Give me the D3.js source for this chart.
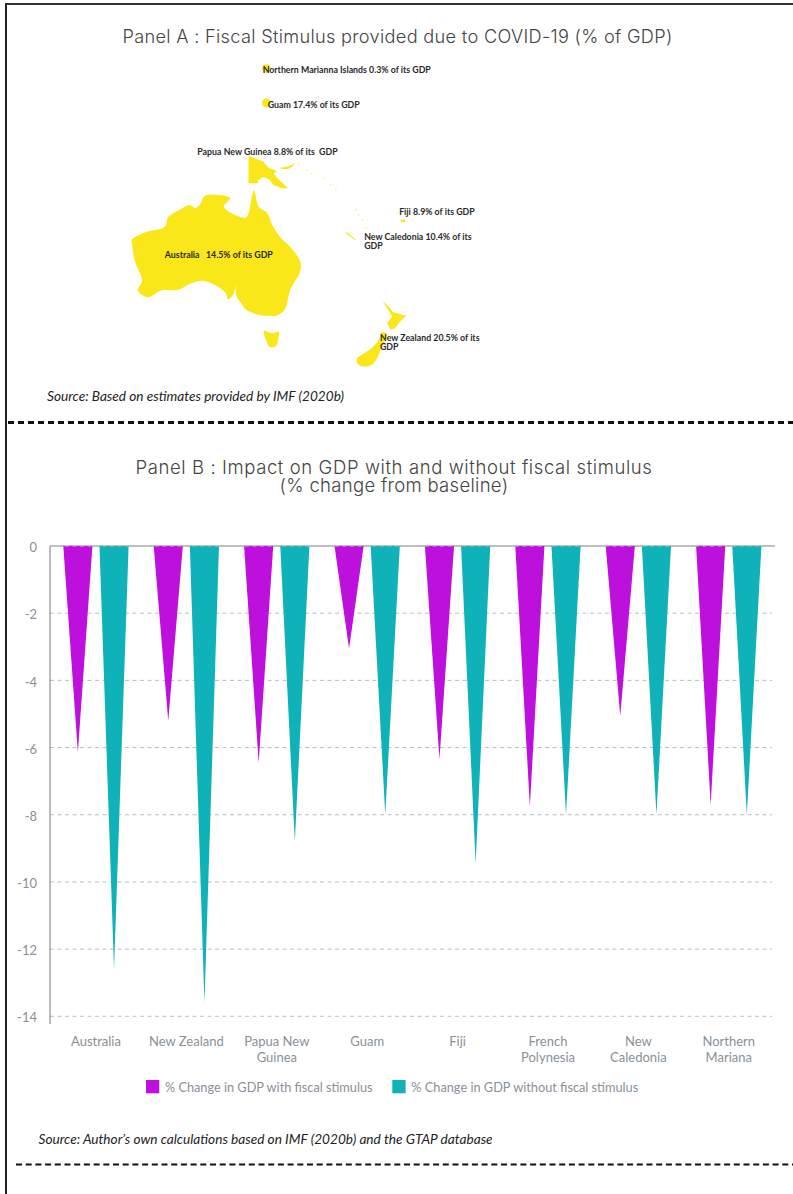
<!DOCTYPE html>
<html>
<head>
<meta charset="utf-8">
<script src="https://cdn.jsdelivr.net/npm/d3@7"></script>
<style>
html,body{margin:0;padding:0;background:#fff;}
svg{display:block;}
</style>
</head>
<body>
<svg id="chart" width="793" height="1194"></svg>
<script>
// ---------- Panel B data ----------
const categories = ["Australia","New Zealand","Papua New Guinea","Guam","Fiji","French Polynesia","New Caledonia","Northern Mariana"];
const categoryLines = [["Australia"],["New Zealand"],["Papua New","Guinea"],["Guam"],["Fiji"],["French","Polynesia"],["New","Caledonia"],["Northern","Mariana"]];
const withStimulus = [-6.15,-5.2,-6.45,-3.05,-6.35,-7.75,-5.05,-7.7];
const withoutStimulus = [-12.6,-13.6,-8.8,-8.0,-9.45,-8.0,-8.0,-8.0];
const seriesNames = ["% Change in GDP with fiscal stimulus","% Change in GDP without fiscal stimulus"];
const seriesColors = ["#bd10dc","#0fb2b8"];
const yTicks = [0,-2,-4,-6,-8,-10,-12,-14];

// ---------- Panel A data (lon, lat) ----------
const australia = [[142.3,-10.8],[143.5,-14.7],[145.5,-16.1],[146.7,-18.8],[149.1,-22.1],[150.5,-23.2],[153.4,-26.8],[153.4,-29],[151,-32.9],[149.8,-36.6],[148,-37.8],[145.7,-37.9],[143.3,-37.7],[140.2,-36.6],[139.4,-35.6],[138.2,-34.3],[137.8,-32.1],[137.5,-33.5],[136.1,-34.7],[135.4,-33.3],[130.5,-31],[127.4,-31.4],[124.1,-32.8],[120.2,-32.9],[116.8,-34.3],[114.4,-32.9],[115.4,-31],[113.7,-26.8],[113,-23.2],[113,-22.1],[116.1,-20.5],[120.9,-19.2],[121.7,-17],[124.5,-15.3],[126.9,-14.2],[128.1,-14.9],[129.3,-14.2],[130.5,-12.1],[135.4,-12.1],[136.6,-12.6],[135.1,-14.7],[140.2,-17.2],[140.9,-16.5]];
const tasmania = [[144.7,-40.7],[146.5,-41.1],[148.3,-40.9],[148.2,-42],[147.8,-43.2],[146.8,-43.6],[146,-43.5],[145.3,-42.5]];
const papua = [[141,-2.6],[144.5,-3.9],[145.8,-5.4],[147.8,-6.2],[147,-6.8],[148,-8],[149.3,-9.1],[150.5,-10.3],[149,-10.3],[147,-9.5],[146,-8.2],[144.6,-7.6],[143.3,-8.4],[143.3,-9.1],[141,-9.1]];
const newBritain = [[148.6,-5.4],[150,-5.2],[151.5,-4.7],[152.2,-4],[151.7,-5],[150.5,-5.7],[149,-5.7]];
const nzNorth = [[173.2,-35],[174.8,-36.2],[175.7,-37.2],[178.9,-37.9],[177.4,-39],[176.2,-40.2],[175.2,-40.5],[174.3,-39.3],[175.5,-38],[174.6,-36.8]];
const nzSouth = [[172.9,-40.9],[174.2,-41.2],[174.2,-41.8],[172.8,-44],[171.5,-46],[170,-46.8],[167.5,-46.6],[167,-45.6],[168,-45],[170.7,-43.7],[172.6,-41.9]];
const newCaledonia = [[164.2,-20.2],[165,-20.7],[167,-22.3],[166.6,-22.2],[164.8,-21]];
const fiji = [[177.5,-17.7],[178.5,-17.5],[178.7,-18.1],[177.8,-18.2]];
const smoothShapes = [australia,tasmania,nzSouth];
const sharpShapes = [papua,newBritain,nzNorth,newCaledonia,fiji];
const marianaPoint = [145.3,18.1];
const guamPoint = [145.3,10.1];
const faintIslands = [[153,-4.4],[155,-6],[156.2,-6.9],[159,-8],[160.7,-9.5],[162,-10.6],[166.8,-15.4],[167.5,-16.5],[168.4,-17.7],[169.3,-19.5],[179,-16.6],[193,-14]];

// ---------- Panel A labels ----------
const mapLabels = [
  {lines:["Northern Marianna Islands 0.3% of its GDP"],lon:144.4,y:73},
  {lines:["Guam 17.4% of its GDP"],lon:145.6,y:108},
  {lines:["Papua New Guinea 8.8% of its  GDP"],lon:128.7,y:155},
  {lines:["Fiji 8.9% of its GDP"],lon:177.2,y:214.5},
  {lines:["New Caledonia 10.4% of its","GDP"],lon:168.8,y:240},
  {lines:["Australia   14.5% of its GDP"],lon:120.9,y:258},
  {lines:["New Zealand 20.5% of its","GDP"],lon:172.6,y:341}
];

const titleFont = "Inter, sans-serif";
const bodyFont = "Lato, sans-serif";
const svg = d3.select("#chart");

// frame
svg.append("line").attr("x1",6).attr("x2",6).attr("y1",4).attr("y2",1194).attr("stroke","#222").attr("stroke-width",2);
svg.append("line").attr("x1",5).attr("x2",793).attr("y1",4).attr("y2",4).attr("stroke","#333").attr("stroke-width",2);

// titles
function title(parts,cx){
  const t = svg.append("text").attr("text-anchor","middle")
    .attr("font-family",titleFont).attr("font-weight",300).attr("fill","#444");
  parts.forEach(p=>t.append("tspan").attr("x",cx).attr("y",p.y).attr("font-size",p.size).attr("letter-spacing",p.spacing).text(p.text));
}
title([{text:"Panel A : Fiscal Stimulus provided due to COVID-19 (% of GDP)",y:43,size:18.2,spacing:0.3}],397.5);
title([{text:"Panel B : Impact on GDP with and without fiscal stimulus",y:474,size:18.5,spacing:0.6},
       {text:"(% change from baseline)",y:492,size:18.5,spacing:0.3}],394);

// ---------- Map ----------
const projection = d3.geoMercator().scale(238.4).center([113,-10.7]).translate([132,190]);
const mapColor = "#f9e71a";
const smoothLine = d3.line().curve(d3.curveCatmullRomClosed.alpha(0.5));
const sharpLine = d3.line().curve(d3.curveLinearClosed);
const map = svg.append("g");
map.selectAll("path.smooth").data(smoothShapes).join("path").attr("class","smooth")
  .attr("d",d=>smoothLine(d.map(projection))).attr("fill",mapColor);
map.selectAll("path.sharp").data(sharpShapes).join("path").attr("class","sharp")
  .attr("d",d=>sharpLine(d.map(projection))).attr("fill",mapColor);
map.selectAll("circle.faint").data(faintIslands).join("circle").attr("class","faint")
  .attr("cx",d=>projection(d)[0]).attr("cy",d=>projection(d)[1]).attr("r",1).attr("fill","#fbf3a0");
map.selectAll("circle.micro").data([marianaPoint,guamPoint]).join("circle").attr("class","micro")
  .attr("cx",d=>projection(d)[0]).attr("cy",d=>projection(d)[1]).attr("r",4.4).attr("fill",mapColor);

mapLabels.forEach(l=>{
  const t = svg.append("text").attr("font-family",bodyFont).attr("font-size",8.8).attr("font-weight",700)
    .attr("fill","#2a2a2a").attr("xml:space","preserve").style("white-space","pre");
  const x = projection([l.lon,0])[0];
  l.lines.forEach((s,i)=>t.append("tspan").attr("x",x).attr("y",l.y+i*9).text(s));
});

function source(text,x,y){
  svg.append("text").attr("x",x).attr("y",y).attr("font-family",bodyFont).attr("font-style","italic")
    .attr("font-size",13.65).attr("fill","#222").text(text);
}
source("Source: Based on estimates provided by IMF (2020b)",47,401);
source("Source: Author\u2019s own calculations based on IMF (2020b) and the GTAP database",38.5,1144);

svg.append("line").attr("x1",8).attr("x2",793).attr("y1",422.5).attr("y2",422.5)
  .attr("stroke","#111").attr("stroke-width",3).attr("stroke-dasharray","6 4");
svg.append("line").attr("x1",16).attr("x2",793).attr("y1",1164.5).attr("y2",1164.5)
  .attr("stroke","#111").attr("stroke-width",2).attr("stroke-dasharray","6 3.7");

// ---------- Bars ----------
const y = d3.scaleLinear().domain([0,-14]).range([546,1016.3]);
const x0 = d3.scaleBand().domain(categories).range([50.8,774]);
const x1 = d3.scaleBand().domain(seriesNames).range([12.5,77.8]).paddingInner(0.195);
const plotLeft = 50, plotRight = 775;

const grid = svg.append("g");
grid.selectAll("line").data(yTicks.slice(1)).join("line")
  .attr("x1",plotLeft).attr("x2",772).attr("y1",d=>y(d)).attr("y2",d=>y(d))
  .attr("stroke","#bcbcc2").attr("stroke-width",1).attr("stroke-dasharray","4 3.5");

const yAxis = d3.axisLeft(y).tickValues(yTicks).tickSize(0).tickPadding(13).tickFormat(d=>d3.format("d")(d).replace("\u2212","-"));
const yG = svg.append("g").attr("transform",`translate(${plotLeft},1.5)`).call(yAxis);
yG.select(".domain").remove();
yG.selectAll("text").attr("font-family",bodyFont).attr("font-size",13).attr("fill","#8a9098");

svg.append("line").attr("x1",plotLeft).attr("x2",plotLeft).attr("y1",y(0)).attr("y2",1024).attr("stroke","#8a8f98").attr("stroke-width",1.2);
svg.append("line").attr("x1",plotLeft).attr("x2",plotRight).attr("y1",y(0)).attr("y2",y(0)).attr("stroke","#7f838a").attr("stroke-width",1.1);

const seriesValues = [withStimulus,withoutStimulus];
seriesNames.forEach((name,si)=>{
  svg.append("g").selectAll("path").data(categories).join("path")
    .attr("fill",seriesColors[si])
    .attr("d",(c,i)=>{
      const l = x0(c)+x1(name), w = x1.bandwidth();
      return d3.line()([[l,y(0)],[l+w,y(0)],[l+w/2,y(seriesValues[si][i])]])+"Z";
    });
});

svg.append("line").attr("x1",plotLeft).attr("x2",772).attr("y1",y(0)).attr("y2",y(0))
  .attr("stroke","#bcbcc2").attr("stroke-width",1).attr("stroke-dasharray","4 3.5");

// category labels
const labels = svg.append("g").selectAll("text").data(categories).join("text")
  .attr("text-anchor","middle").attr("font-family",bodyFont).attr("font-size",13).attr("fill","#8a9098");
labels.each(function(c,i){
  const t = d3.select(this);
  categoryLines[i].forEach((s,k)=>t.append("tspan").attr("x",x0(c)+x0.bandwidth()/2).attr("y",1045.5+k*16).text(s));
});

// legend
const legendX = [146,392.3];
const legendSize = [12.72,12.75];
seriesNames.forEach((name,i)=>{
  svg.append("rect").attr("x",legendX[i]).attr("y",1080).attr("width",13.3).attr("height",13.3).attr("fill",seriesColors[i]);
  svg.append("text").attr("x",legendX[i]+19).attr("y",1092).attr("font-family",bodyFont).attr("font-size",legendSize[i]).attr("fill","#8a9098").text(name);
});
</script>
</body>
</html>
